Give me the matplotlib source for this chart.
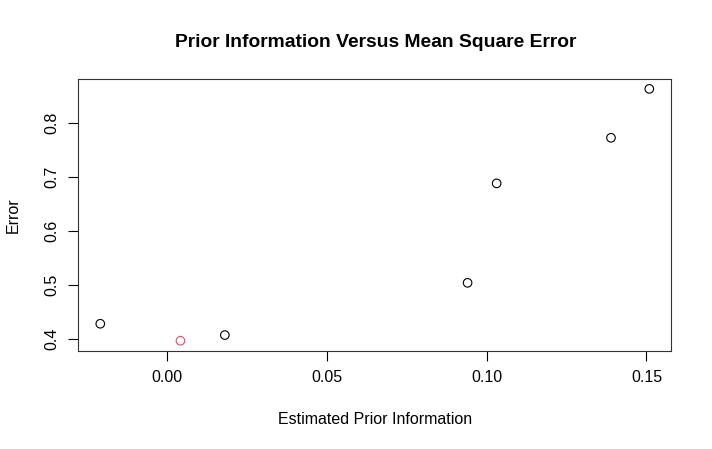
import matplotlib
matplotlib.use("Agg")
import matplotlib.pyplot as plt

plt.rcParams['font.family'] = ['Liberation Sans', 'DejaVu Sans']

# estimated prior information vs error
prior_info = [-0.0210, 0.0041, 0.0180, 0.0940, 0.1031, 0.1389, 0.1509]
error = [0.4283, 0.3969, 0.4074, 0.5040, 0.6880, 0.7723, 0.8628]
colors = ['black', '#DF536B', 'black', 'black', 'black', 'black', 'black']

x_ticks = [0.00, 0.05, 0.10, 0.15]
x_ticklabels = ['0.00', '0.05', '0.10', '0.15']
y_ticks = [0.4, 0.5, 0.6, 0.7, 0.8]
y_ticklabels = ['0.4', '0.5', '0.6', '0.7', '0.8']

fig = plt.figure(figsize=(7.12, 4.49), dpi=100)
ax = fig.add_axes([0.110, 0.2187, 0.8328, 0.6058])

ax.scatter(prior_info, error, s=38, facecolors='none', edgecolors=colors, linewidths=0.8)

# R style 4% padding
xmin, xmax = min(prior_info), max(prior_info)
ymin, ymax = min(error), max(error)
dx = (xmax - xmin) * 0.04
dy = (ymax - ymin) * 0.04
ax.set_xlim(xmin - dx, xmax + dx)
ax.set_ylim(ymin - dy, ymax + dy)

ax.set_xticks(x_ticks)
ax.set_xticklabels(x_ticklabels)
ax.set_yticks(y_ticks)
ax.set_yticklabels(y_ticklabels, rotation=90, va='center')
ax.tick_params(direction='out', length=7, width=0.8, labelsize=11.5, pad=7, colors='black')

for sp in ax.spines.values():
    sp.set_linewidth(0.8)
    sp.set_color('#333333')

fig.text(0.527, 0.906, 'Prior Information Versus Mean Square Error',
         ha='center', va='center', fontsize=13.9, fontweight='bold')
fig.text(0.527, 0.0646, 'Estimated Prior Information', ha='center', va='center', fontsize=11.5)
fig.text(0.0185, 0.5216, 'Error', ha='center', va='center', fontsize=11.5, rotation=90)

fig.savefig('out.png', dpi=100)
